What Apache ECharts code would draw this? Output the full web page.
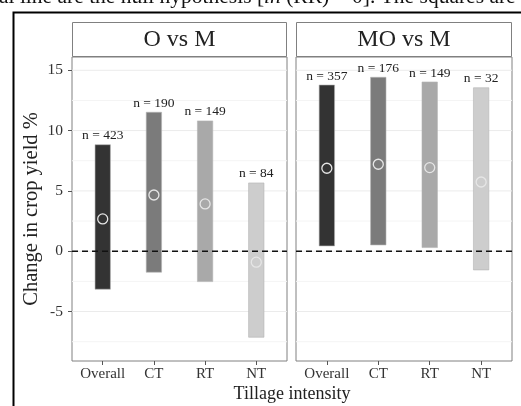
<!DOCTYPE html>
<html>
<head>
<meta charset="utf-8">
<script src="https://cdn.jsdelivr.net/npm/echarts@6/dist/echarts.min.js"></script>
<style>
  html, body { margin: 0; padding: 0; background: #fff; }
  #chart { width: 521px; height: 406px; }
</style>
</head>
<body>
<div id="chart"></div>
<script>
// Tillage categories along the x axis
const categories = ['Overall', 'CT', 'RT', 'NT'];

// O vs M: confidence interval bounds, mean effect and sample size
const omLow  = [-3.15, -1.74, -2.52, -7.13];
const omHigh = [8.83, 11.52, 10.80, 5.66];
const omMean = [2.68, 4.66, 3.92, -0.91];
const omN    = [423, 190, 149, 84];

// MO vs M: confidence interval bounds, mean effect and sample size
const moLow  = [0.44, 0.52, 0.30, -1.55];
const moHigh = [13.78, 14.42, 14.03, 13.55];
const moMean = [6.88, 7.21, 6.93, 5.74];
const moN    = [357, 176, 149, 32];

// Axis tick values
const yTicks = [-5, 0, 5, 10, 15];
const yMinorGrid = [-7.5, -2.5, 2.5, 7.5, 12.5];
const xTicks = [1, 2, 3, 4];
const panelTitles = ['O vs M', 'MO vs M'];

const SERIF = "'Liberation Serif', 'Times New Roman', serif";
const barColors = ['#333333', '#7b7b7b', '#a9a9a9', '#cdcdcd'];
const BAR_W = 0.30;
const Y_MIN = -9.1, Y_MAX = 16.1;

const chart = echarts.init(document.getElementById('chart'), null, { renderer: 'canvas' });

function rangeRender(params, api) {
  const x = api.value(0);
  const top = api.coord([x, api.value(2)]);
  const bot = api.coord([x, api.value(1)]);
  const w = api.size([BAR_W, 0])[0];
  return {
    type: 'group',
    children: [
      {
        type: 'rect',
        shape: { x: top[0] - w / 2, y: top[1], width: w, height: bot[1] - top[1] },
        style: { fill: barColors[params.dataIndex], stroke: '#b4b4b4', lineWidth: 0.6 }
      },
      {
        type: 'text',
        style: {
          text: 'n = ' + api.value(3),
          x: top[0], y: top[1] - 2,
          align: 'center', verticalAlign: 'bottom',
          fontFamily: SERIF, fontSize: 13.5, fill: '#222'
        }
      }
    ]
  };
}

function hLineRender(style) {
  return function (params, api) {
    const cs = params.coordSys;
    const y = api.coord([1, api.value(0)])[1];
    return {
      type: 'line',
      shape: { x1: cs.x, y1: y, x2: cs.x + cs.width, y2: y },
      style: style(api.value(1))
    };
  };
}

const gridStyle = kind => ({ stroke: kind === 1 ? '#ebebeb' : '#f4f4f4', lineWidth: 1 });
const zeroStyle = () => ({ stroke: '#111', lineWidth: 1.4, lineDash: [6, 4] });

function panelSeries(idx, low, high, mean, n) {
  const gridData = yTicks.map(v => [v, 1]).concat(yMinorGrid.map(v => [v, 0]));
  return [
    {
      type: 'custom', xAxisIndex: idx, yAxisIndex: idx, z: 1, silent: true,
      renderItem: hLineRender(gridStyle), data: gridData
    },
    {
      type: 'custom', xAxisIndex: idx, yAxisIndex: idx, z: 2, silent: true,
      renderItem: rangeRender,
      data: categories.map((c, i) => [xTicks[i], low[i], high[i], n[i]])
    },
    {
      type: 'custom', xAxisIndex: idx, yAxisIndex: idx, z: 3, silent: true,
      renderItem: hLineRender(zeroStyle), data: [[0, 1]]
    },
    {
      type: 'scatter', xAxisIndex: idx, yAxisIndex: idx, z: 4, silent: true,
      symbol: 'circle', symbolSize: 10,
      itemStyle: { color: 'rgba(0,0,0,0)', borderColor: '#e6e6e6', borderWidth: 1.3, opacity: 1 },
      data: categories.map((c, i) => [xTicks[i], mean[i]])
    }
  ];
}

const panels = [
  { left: 72, width: 215 },
  { left: 296, width: 216 }
];

const option = {
  animation: false,
  backgroundColor: '#ffffff',
  grid: panels.map(p => ({
    left: p.left, top: 57, width: p.width, height: 304,
    show: true, borderColor: '#808080', borderWidth: 1, backgroundColor: '#ffffff'
  })),
  xAxis: panels.map((p, i) => ({
    type: 'value', gridIndex: i, min: 0.4, max: 4.6,
    splitLine: { show: false },
    axisLine: { show: false, onZero: false },
    axisTick: { show: true, customValues: xTicks, length: 4, lineStyle: { color: '#555' } },
    axisLabel: {
      show: true, customValues: xTicks, margin: 6,
      formatter: v => categories[Math.round(v) - 1] || '',
      fontFamily: SERIF, fontSize: 15, color: '#333'
    }
  })),
  yAxis: panels.map((p, i) => ({
    type: 'value', gridIndex: i, min: Y_MIN, max: Y_MAX,
    splitLine: { show: false },
    axisLine: { show: false, onZero: false },
    axisTick: { show: i === 0, customValues: yTicks, length: 4, lineStyle: { color: '#555' } },
    axisLabel: {
      show: i === 0, customValues: yTicks, margin: 9,
      formatter: v => String(v),
      fontFamily: SERIF, fontSize: 15.5, color: '#333'
    }
  })),
  series: panelSeries(0, omLow, omHigh, omMean, omN)
    .concat(panelSeries(1, moLow, moHigh, moMean, moN)),
  graphic: [
    // caption line running above the figure
    {
      type: 'text', left: -1, top: -14, z: 10,
      style: {
        text: 'al line are the null hypothesis [{it|ln} (RR) = 0]. The squares are',
        fontFamily: SERIF, fontSize: 21.5, fill: '#111',
        rich: { it: { fontFamily: SERIF, fontSize: 21.5, fontStyle: 'italic', fill: '#111' } }
      }
    },
    // outer figure frame (left and top edges)
    {
      type: 'polyline', z: 10,
      shape: { points: [[13.5, 406], [13.5, 12.5], [521, 12.5]] },
      style: { stroke: '#000', lineWidth: 2, fill: null }
    },
    // panel strips
    ...panels.map((p, i) => ({
      type: 'group', z: 10,
      children: [
        {
          type: 'rect',
          shape: { x: p.left + 0.5, y: 22.5, width: p.width - 1, height: 34 },
          style: { fill: '#ffffff', stroke: '#808080', lineWidth: 1 }
        },
        {
          type: 'text',
          style: {
            text: panelTitles[i], x: p.left + p.width / 2, y: 40,
            align: 'center', verticalAlign: 'middle',
            fontFamily: SERIF, fontSize: 24, fill: '#222'
          }
        }
      ]
    })),
    // y axis title
    {
      type: 'text', z: 10, x: 32, y: 209, rotation: Math.PI / 2,
      style: {
        text: 'Change in crop yield %', x: 0, y: 0,
        align: 'center', verticalAlign: 'middle',
        fontFamily: SERIF, fontSize: 20.5, fill: '#222'
      }
    },
    // x axis title
    {
      type: 'text', z: 10,
      style: {
        text: 'Tillage intensity', x: 292, y: 394,
        align: 'center', verticalAlign: 'middle',
        fontFamily: SERIF, fontSize: 18, fill: '#222'
      }
    }
  ]
};

chart.setOption(option);
</script>
</body>
</html>
